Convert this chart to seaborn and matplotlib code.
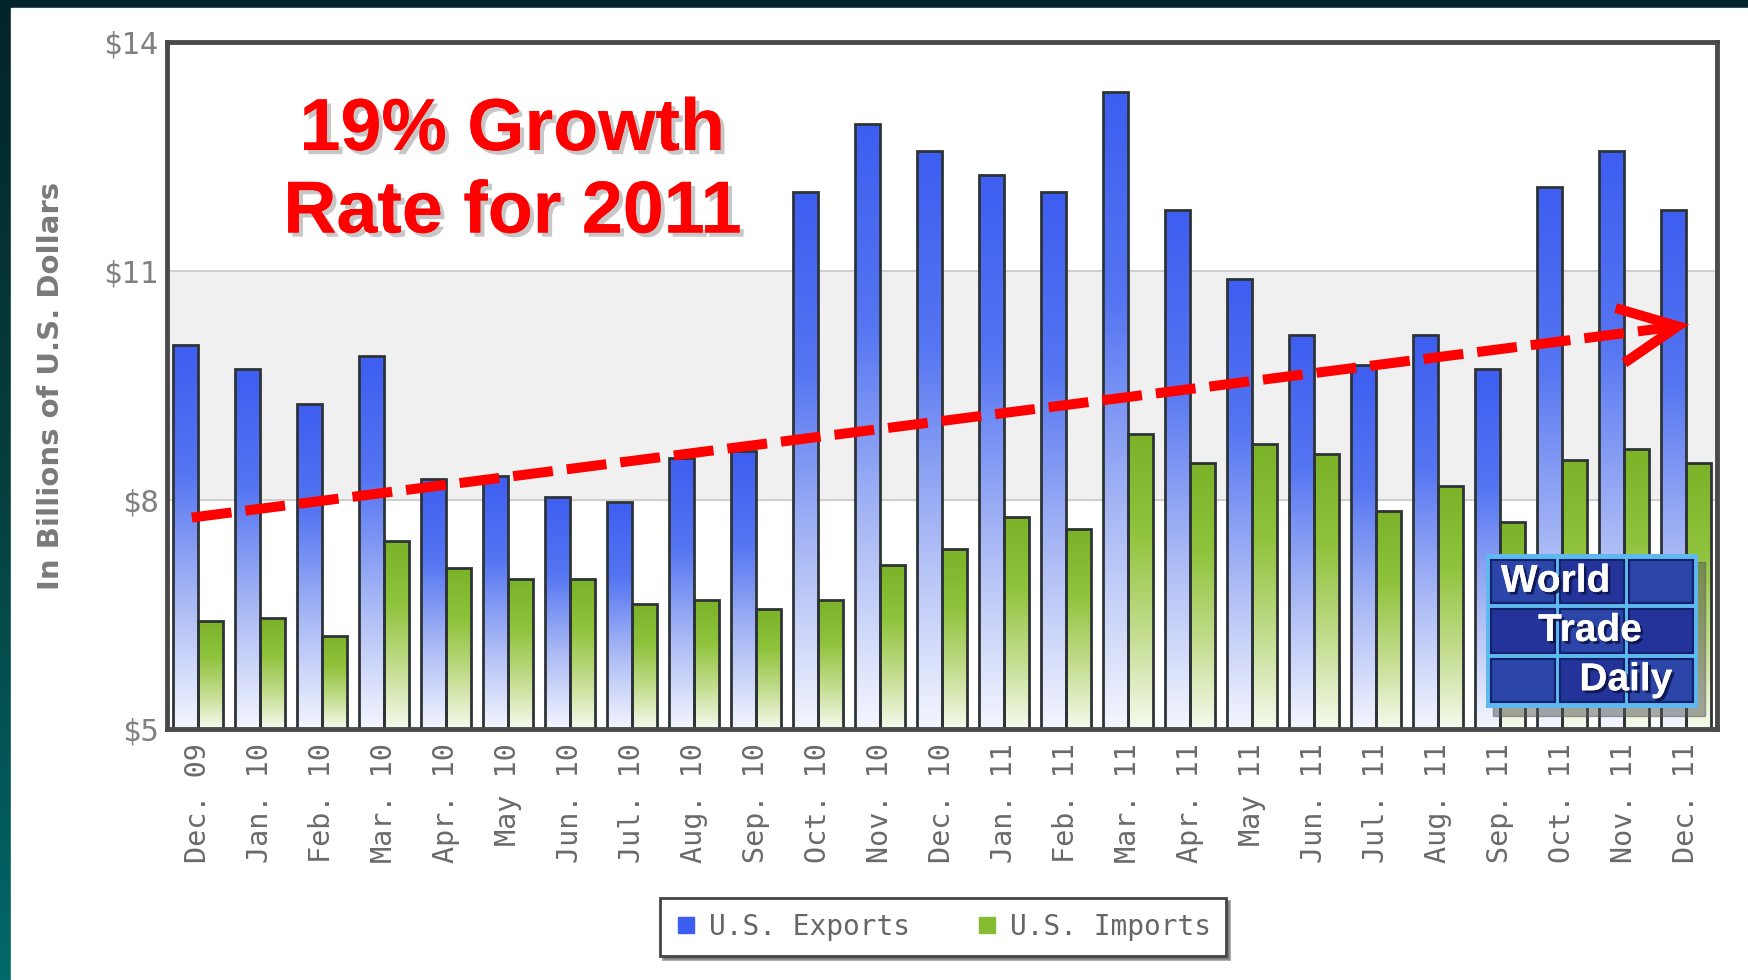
import numpy as np
import pandas as pd
import matplotlib
matplotlib.use("Agg")
import matplotlib.pyplot as plt
import matplotlib.patheffects as pe
from matplotlib.patches import Rectangle
from matplotlib.colors import LinearSegmentedColormap
from matplotlib.lines import Line2D
import seaborn as sns

months = ["Dec. 09", "Jan. 10", "Feb. 10", "Mar. 10", "Apr. 10", "May 10", "Jun. 10",
          "Jul. 10", "Aug. 10", "Sep. 10", "Oct. 10", "Nov. 10", "Dec. 10", "Jan. 11",
          "Feb. 11", "Mar. 11", "Apr. 11", "May 11", "Jun. 11", "Jul. 11", "Aug. 11",
          "Sep. 11", "Oct. 11", "Nov. 11", "Dec. 11"]
exports = [10.03, 9.72, 9.26, 9.88, 8.28, 8.31, 8.04, 7.97, 8.55, 8.64, 12.03, 12.92,
           12.57, 12.26, 12.03, 13.34, 11.80, 10.89, 10.16, 9.77, 10.16, 9.72, 12.10,
           12.57, 11.80]
imports = [6.41, 6.45, 6.22, 7.46, 7.11, 6.96, 6.96, 6.64, 6.69, 6.57, 6.69, 7.15,
           7.36, 7.78, 7.62, 8.86, 8.48, 8.74, 8.60, 7.85, 8.18, 7.71, 8.53, 8.67, 8.48]
series_names = ["U.S. Exports", "U.S. Imports"]
y_ticks = [5, 8, 11, 14]
y_tick_labels = ["$5", "$8", "$11", "$14"]
headline = "19% Growth\nRate for 2011"
trend_start = (-0.1, 7.77)
trend_end = (24.05, 10.3)

df = pd.DataFrame({
    "month": months * 2,
    "series": [series_names[0]] * len(months) + [series_names[1]] * len(months),
    "value": exports + imports,
})

sns.set_theme(style="white")
plt.rcParams["font.family"] = ["DejaVu Sans"]

W, H = 1748, 980
fig = plt.figure(figsize=(W / 100, H / 100), dpi=100)

# background frame (dark teal gradient on left and top)
bg = fig.add_axes([0, 0, 1, 1], zorder=-10)
bg.set_axis_off()
grad = np.linspace(0, 1, 256).reshape(-1, 1)
teal = LinearSegmentedColormap.from_list("teal", ["#02686a", "#05403f", "#03242a"])
bg.imshow(grad, aspect="auto", cmap=teal, extent=[0, 1, 0, 1], origin="lower")
bg.add_patch(Rectangle((11 / W, 0), 1, 1 - 8 / H, color="white", zorder=2))
bg.set_xlim(0, 1)
bg.set_ylim(0, 1)

ax = fig.add_axes([167 / W, 1 - 729 / H, (1717 - 167) / W, (729 - 42) / H])

blue = "#3d5ef0"
green = "#86bd30"
sns.barplot(data=df, x="month", y="value", hue="series", palette=[blue, green],
            width=0.8, edgecolor="#2e3436", linewidth=2.0, gap=0, ax=ax,
            legend=False, saturation=1)

n = len(months)

# background bands
ax.axhspan(8, 11, color="#f0f0f0", zorder=0)
for yv in [8, 11]:
    ax.axhline(yv, color="#c8c8c8", lw=1.2, zorder=0.5)

cmap_b = LinearSegmentedColormap.from_list("b", ["#f4f6fe", "#a9b9f5", "#5575f2", "#3d5ef0"])
cmap_g = LinearSegmentedColormap.from_list("g", ["#f7faee", "#c2dc8c", "#8fc33c", "#7ab228"])
ygrad = np.linspace(0, 1, 256).reshape(-1, 1)
for i, bar in enumerate(ax.patches[:2 * n]):
    x0 = bar.get_x()
    w = bar.get_width()
    top = bar.get_height()
    cm = cmap_b if i < n else cmap_g
    im = ax.imshow(ygrad, aspect="auto", cmap=cm, origin="lower",
                   extent=[x0, x0 + w, 5, top], zorder=1.5, interpolation="bilinear")
    im.set_clip_path(bar)
    bar.set_facecolor("none")
    bar.set_zorder(2)

ax.set_ylim(5, 14)
ax.set_xlim(-0.5, n - 0.5)
ax.set_aspect("auto")

for s in ax.spines.values():
    s.set_color("#4a4a4a")
    s.set_linewidth(3.5)
    s.set_visible(True)

ax.set_yticks(y_ticks)
ax.set_yticklabels(y_tick_labels, fontfamily="DejaVu Sans Mono", color="#808080", fontsize=22)
ax.tick_params(axis="y", length=0, pad=6)
ax.set_xticks(range(n))
ax.set_xticklabels(months, rotation=90, fontfamily="DejaVu Sans Mono", color="#6a6a6a",
                   fontsize=20.5, va="top")
ax.tick_params(axis="x", length=0, pad=10)
ax.set_xlabel("")
ax.set_ylabel("In Billions of U.S. Dollars", fontsize=21, fontweight="bold",
              color="#7a7a7a", labelpad=28)

# headline text
ax.text(5.07, 12.3, headline, ha="center", va="center", color="#ff0000",
        fontsize=53, fontweight="bold", family="Liberation Sans", linespacing=1.25,
        zorder=6,
        path_effects=[pe.withSimplePatchShadow(offset=(3, -3), shadow_rgbFace="#999999", alpha=0.55),
                      pe.Normal()])

# trend arrow
ax.plot([trend_start[0], trend_end[0] - 0.05], [trend_start[1], trend_end[1] - 0.01],
        color="#ff0000", lw=7.2, ls=(0, (4.0, 1.4)), zorder=6,
        dash_capstyle="butt")
ax.annotate("", xy=trend_end, xytext=(trend_end[0] - 0.5, trend_end[1] - 0.065),
            arrowprops=dict(arrowstyle="->,head_length=4.2,head_width=2.0", color="#ff0000",
                            lw=7.2, shrinkA=0, shrinkB=0, mutation_scale=10,
                            joinstyle="miter", capstyle="butt"), zorder=6)

# logo
lx0, ly0, lx1, ly1 = 1486 / W, 1 - 708 / H, 1698 / W, 1 - 554 / H
fig.patches.append(Rectangle((lx0 + 0.004, ly0 - 0.008), lx1 - lx0, ly1 - ly0,
                             transform=fig.transFigure, color="#555555", alpha=0.5, zorder=7))
fig.patches.append(Rectangle((lx0, ly0), lx1 - lx0, ly1 - ly0, transform=fig.transFigure,
                             facecolor="#5fb8ee", edgecolor="none", zorder=8))
gx, gy = 0.003, 0.006
cw = (lx1 - lx0 - 4 * gx) / 3
rh = (ly1 - ly0 - 4 * gy) / 3
for r in range(3):
    for c in range(3):
        fig.patches.append(Rectangle((lx0 + gx + c * (cw + gx), ly0 + gy + r * (rh + gy)),
                                     cw, rh, transform=fig.transFigure,
                                     facecolor="#23339a" if (r + c) % 2 else "#2b45a8",
                                     edgecolor="#13206a", lw=1.5, zorder=9))
for txt, fx, fy, ha in [("World", 0.07, 0.82, "left"), ("Trade", 0.49, 0.5, "center"),
                        ("Daily", 0.66, 0.18, "center")]:
    fig.text(lx0 + fx * (lx1 - lx0), ly0 + fy * (ly1 - ly0), txt, ha=ha,
             va="center", color="white", fontsize=28, fontweight="bold", family="Liberation Sans",
             zorder=10,
             path_effects=[pe.withSimplePatchShadow(offset=(2, -2), shadow_rgbFace="#0a1040", alpha=0.8),
                           pe.Normal()])

# legend
handles = [Line2D([], [], marker="s", ls="", color=blue, markersize=12),
           Line2D([], [], marker="s", ls="", color=green, markersize=12)]
leg = fig.legend(handles, series_names, loc="center", bbox_to_anchor=(943 / W, 1 - 927 / H),
                 ncol=2, frameon=True, fancybox=False, shadow=True,
                 prop={"family": "DejaVu Sans Mono", "size": 20},
                 handletextpad=0.4, columnspacing=2.4, borderpad=0.55, borderaxespad=0,
                 handlelength=0.8, handleheight=0.7)
leg.get_frame().set_edgecolor("#444444")
leg.get_frame().set_linewidth(2)
for t in leg.get_texts():
    t.set_color("#666666")

fig.savefig("out.png", dpi=100)
